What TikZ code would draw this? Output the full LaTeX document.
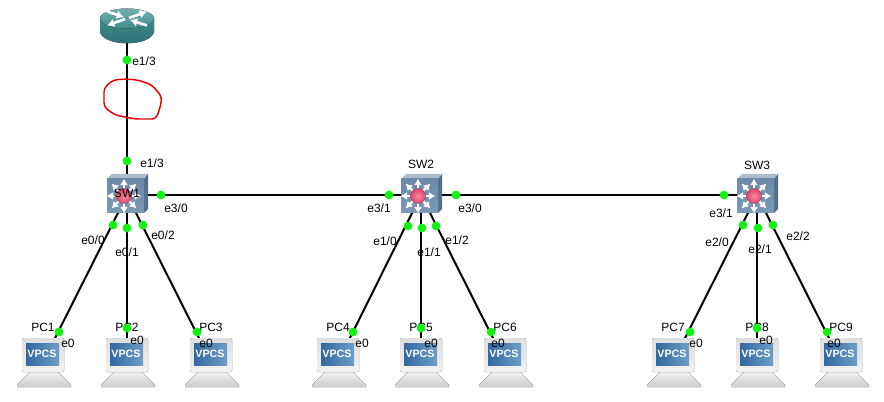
\documentclass[tikz,border=0pt]{standalone}
\usepackage{fontspec}
\setmainfont{Liberation Sans}
\usetikzlibrary{calc,arrows.meta}
\definecolor{dotgreen}{HTML}{12F212}
\definecolor{teal1}{HTML}{3F8C8C}
\definecolor{teal2}{HTML}{2E6E70}
\definecolor{teal3}{HTML}{74AEAE}
\definecolor{swfront}{HTML}{6C89A8}
\definecolor{swfrontb}{HTML}{7E99B5}
\definecolor{swtop}{HTML}{AEBCCB}
\definecolor{swside}{HTML}{56708C}
\definecolor{vblue}{HTML}{33689F}
\definecolor{vblueb}{HTML}{6E9DC6}
\definecolor{redhub}{HTML}{E2456A}
\definecolor{redhubb}{HTML}{F58A9C}
\tikzset{
  x=0.75pt,y=-0.75pt,
  anchorbox/.style={inner sep=0pt,minimum width=30pt,minimum height=27pt},
  pcbox/.style={inner sep=0pt,minimum width=30pt,minimum height=22.5pt},
  link/.style={line width=1.5pt,black},
  dot/.style={circle,fill=dotgreen,draw=none,inner sep=0pt,minimum size=6.6pt},
  lab/.style={font=\fontsize{9}{10}\selectfont,inner sep=0pt,text=black},
  pics/switchicon/.style={code={
    \fill[swtop] (-20,-16) -- (-15,-21) -- (21,-21) -- (17,-16) -- cycle;
    \fill[swside] (17,-16) -- (21,-21) -- (21,14) -- (17,18) -- cycle;
    \fill[top color=swfront,bottom color=swfrontb] (-20,-16) rectangle (17,18);
    \foreach \a in {0,45,...,315}{
      \draw[white,line width=1.7pt,-{Latex[length=5pt,width=6pt]}] (-3,1) -- ++(\a:17.5);
    }
    \fill[inner color=redhubb,outer color=redhub] (-3,1) circle (7.5);
  }},
  pics/pcicon/.style={code={
    \fill[top color=white!95!black,bottom color=white!80!black] (-13,17) -- (15,17) -- (28,30) -- (28,32) -- (-26,32) -- (-26,30) -- cycle;
    \fill[rounded corners=1.5pt,top color=white!87!black,bottom color=white!95!black] (-21,-17) rectangle (21,17);
    \fill[left color=vblue,right color=vblueb] (-17,-12) rectangle (16,10);
    \node[font=\bfseries\fontsize{8}{9}\selectfont,text=white,inner sep=0pt] at (-1,-1) {VPCS};
  }},
}
\begin{document}
\begin{tikzpicture}
\useasboundingbox (0,0) rectangle (884,402);
\fill[white] (0,0) rectangle (884,402);

% anchor nodes
\node[anchorbox] (R1) at (127,25) {};
\node[anchorbox] (SW1) at (127,195) {};
\node[anchorbox] (SW2) at (421,195) {};
\node[anchorbox] (SW3) at (757,195) {};
\node[pcbox] (PC1) at (43,362) {};
\node[pcbox] (PC2) at (127,362) {};
\node[pcbox] (PC3) at (211,362) {};
\node[pcbox] (PC4) at (338,362) {};
\node[pcbox] (PC5) at (421,362) {};
\node[pcbox] (PC6) at (505,362) {};
\node[pcbox] (PC7) at (673,362) {};
\node[pcbox] (PC8) at (757,362) {};
\node[pcbox] (PC9) at (841,362) {};

% connectors
\draw[link] (R1.center) -- (SW1.center);
\draw[link] (SW1.center) -- (SW2.center);
\draw[link] (SW2.center) -- (SW3.center);
\foreach \s/\a/\b/\c in {SW1/PC1/PC2/PC3,SW2/PC4/PC5/PC6,SW3/PC7/PC8/PC9}{
  \draw[link] (\s.center) -- (\a.center);
  \draw[link] (\s.center) -- (\b.center);
  \draw[link] (\s.center) -- (\c.center);
}

% router
\fill[top color=teal1,bottom color=teal2] (100,18) -- (100,32) .. controls (104,47) and (150,47) .. (154,32) -- (154,18) -- cycle;
\fill[top color=teal3,bottom color=teal1] (127,18.5) ellipse [x radius=27,y radius=10];
\foreach \xa/\ya/\xb/\yb in {129/18/147/11.5, 125/19/107/25.5, 107/11.5/124/17, 147/25.5/130/20}{
  \draw[white,line width=2pt,-{Latex[length=5.5pt,width=6.5pt]}] (\xa,\ya) -- (\xb,\yb);
}

% devices
\foreach \s in {SW1,SW2,SW3}{ \path (\s.center) pic {switchicon}; }
\foreach \p in {PC1,PC2,PC3,PC4,PC5,PC6,PC7,PC8,PC9}{ \path ($(\p.center)+(0,-7)$) pic {pcicon}; }

% red scribble
\draw[red!90!black,line width=1.1pt,line join=round,rounded corners=3pt]
  (113,80) -- (125,79) -- (138,80) -- (152,85) -- (162,97) -- (160,108) -- (156,119)
  -- (135,119) -- (115,115) -- (104,107) -- (104,88) -- cycle;

% device labels
\node[lab] (tSW1) at (127,193) {SW1};
\node[lab] (tSW2) at (421,164) {SW2};
\node[lab] (tSW3) at (757,165) {SW3};
\foreach \p/\x in {PC1/43,PC2/127,PC3/211,PC4/338,PC5/421,PC6/505,PC7/673,PC8/757,PC9/841}{
  \node[lab] (t\p) at (\x,327) {\p};
}

% green dots
\foreach \n/\x/\y in {d1/127/60,d2/127/161,d3/161/195,d4/113/225,d5/127/228,d6/143/225,
  d7/389/195,d8/408/226,d9/422/228,d10/436/226,d11/456/195,
  d12/724/195,d13/743/225,d14/758/228,d15/773/225,
  d16/59/332,d17/127/328,d18/197/332,d19/353/332,d20/421/328,d21/491/332,d22/690/332,d23/757/328,d24/827/332}{
  \node[dot] (\n) at (\x,\y) {};
}

% port labels
\node[lab] at (144,61) {e1/3};
\node[lab] at (152,163) {e1/3};
\node[lab] at (176,208) {e3/0};
\node[lab] at (93,240) {e0/0};
\node[lab] at (127,252) {e0/1};
\node[lab] at (163,235) {e0/2};
\node[lab] at (379,208) {e3/1};
\node[lab] at (385,241) {e1/0};
\node[lab] at (429,252) {e1/1};
\node[lab] at (457,240) {e1/2};
\node[lab] at (470,208) {e3/0};
\node[lab] at (721,213) {e3/1};
\node[lab] at (717,242) {e2/0};
\node[lab] at (760,249) {e2/1};
\node[lab] at (798,236) {e2/2};
\foreach \x/\y in {68/343,137/340,206/343,362/343,431/343,498/343,696/343,766/340,834/343}{
  \node[lab] at (\x,\y) {e0};
}
\end{tikzpicture}
\end{document}
